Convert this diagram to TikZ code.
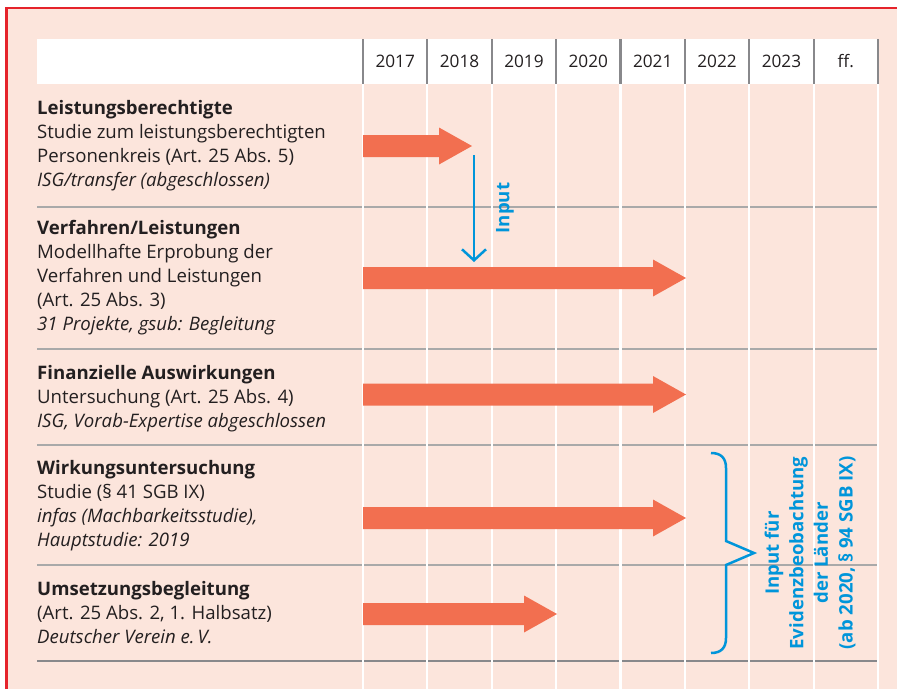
\documentclass[tikz,border=0pt]{standalone}
\usepackage{fontspec}
\setmainfont{Open Sans}
\usetikzlibrary{arrows.meta}
\definecolor{framered}{HTML}{E5232B}
\definecolor{peach}{HTML}{FCE5DC}
\definecolor{barorange}{HTML}{F26F50}
\definecolor{inputblue}{HTML}{0095DA}
\definecolor{rulegray}{HTML}{A9A9A9}
\definecolor{headgray}{HTML}{88888B}
\definecolor{txt}{HTML}{231F20}
\tikzset{rowtext/.style={anchor=north west, inner sep=0pt, align=left, text=txt,
  font=\fontsize{18.6}{24}\selectfont}}
\tikzset{yeartext/.style={inner sep=0pt, text=txt, font=\fontsize{17.2}{20}\selectfont}}
\tikzset{bluetext/.style={inner sep=0pt, text=inputblue, rotate=90, align=center,
  font=\fontsize{18.6}{24.6}\selectfont\bfseries}}
\tikzset{bar/.style={fill=barorange, draw=none}}
\tikzset{inputline/.style={draw=inputblue, line width=2.5pt}}

\begin{document}
\begin{tikzpicture}[x=1pt,y=-1pt]
\useasboundingbox (0,0) rectangle (897,689);

% background and frame
\fill[peach] (6.5,8) rectangle (897,689);
\draw[framered, line width=2.5pt] (6.5,689) -- (6.5,8) -- (897,8);

% header
\fill[white] (37,39) rectangle (878,84);
\foreach \yr [count=\i] in {2017,2018,2019,2020,2021,2022,2023,ff.}{
  \node[yeartext] (yr\i) at ({363+64.375*(\i-0.5)},61) {\yr};
}

% row rules
\foreach \yy in {207,349,445,565}{
  \draw[rulegray, line width=2.2pt] (37,\yy) -- (878,\yy);
}
\draw[headgray, line width=2.6pt] (37,661) -- (878,661);

% column lines
\foreach \i in {0,...,8}{
  \draw[headgray, line width=2.2pt] ({363+64.375*\i},39) -- ({363+64.375*\i},84);
  \draw[white, line width=2.2pt] ({363+64.375*\i},84) -- ({363+64.375*\i},689);
}

% time bars
\foreach \tip/\yc [count=\i] in {472/146,686/278,686/394.5,686/518,557/614}{
  \fill[bar] (363,\yc-11) -- (\tip-33,\yc-11) -- (\tip-33,\yc-18.5) -- (\tip,\yc)
    -- (\tip-33,\yc+18.5) -- (\tip-33,\yc+11) -- (363,\yc+11) -- cycle;
}

% row texts
\node[rowtext] (lb) at (37,100) {\textbf{Leistungsberechtigte}\\
  Studie zum leistungsberechtigten\\Personenkreis (Art. 25 Abs. 5)\\
  \textit{ISG/transfer (abgeschlossen)}};
\node[rowtext] (vl) at (37,220) {\textbf{Verfahren/Leistungen}\\
  Modellhafte Erprobung der\\Verfahren und Leistungen\\(Art. 25 Abs. 3)\\
  \textit{31 Projekte, gsub: Begleitung}};
\node[rowtext] (fa) at (37,365) {\textbf{Finanzielle Auswirkungen}\\
  Untersuchung (Art. 25 Abs. 4)\\\textit{ISG, Vorab-Expertise abgeschlossen}};
\node[rowtext] (wu) at (37,460) {\textbf{Wirkungsuntersuchung}\\
  Studie (§ 41 SGB IX)\\\textit{infas (Machbarkeitsstudie),}\\
  \textit{Hauptstudie: 2019}};
\node[rowtext] (ub) at (37,581) {\textbf{Umsetzungsbegleitung}\\
  (Art. 25 Abs. 2, 1. Halbsatz)\\\textit{Deutscher Verein e.\,V.}};

% input arrow
\coordinate (inA) at (474,155);
\coordinate (inB) at (474,262);
\draw[inputline, -{Straight Barb[length=11pt,width=24pt]}] (inA) -- (inB);
\node[bluetext] (inlab) at (505,208) {Input};

% brace
\draw[inputline, line join=miter] (711,453) .. controls (721,453) and (726,458) .. (726,468)
  -- (726,541) -- (754,553) -- (726,565) -- (726,638)
  .. controls (726,648) and (721,653) .. (711,653);
\node[bluetext] (evid) at (810,553) {Input für\\Evidenzbeobachtung\\der Länder\\
  (ab 2020, § 94 SGB IX)};

\end{tikzpicture}
\end{document}
